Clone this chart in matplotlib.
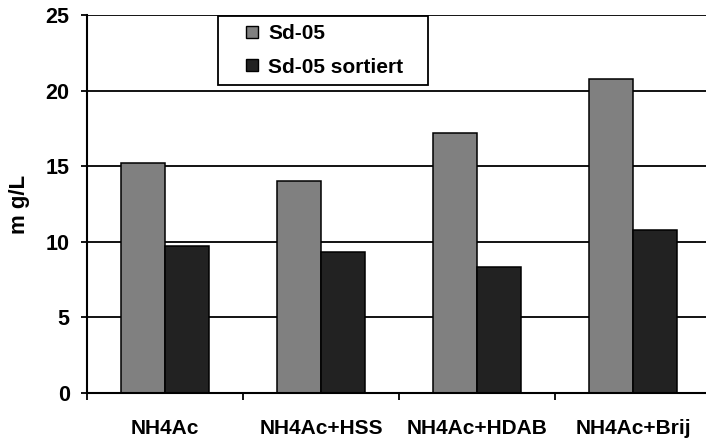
import matplotlib
matplotlib.use("Agg")
import matplotlib.pyplot as plt
from matplotlib.patches import Rectangle
from matplotlib.lines import Line2D
import numpy as np

plt.rcParams['font.family'] = ['Liberation Sans', 'DejaVu Sans']
plt.rcParams['font.weight'] = 'bold'

categories = ["NH4Ac", "NH4Ac+HSS", "NH4Ac+HDAB", "NH4Ac+Brij"]
sd05 = [15.2, 14.0, 17.2, 20.8]
sd05_sortiert = [9.7, 9.3, 8.35, 10.75]
series_names = ["Sd-05", "Sd-05 sortiert"]
yticks = [0, 5, 10, 15, 20, 25]

W, H = 706, 440
fig = plt.figure(figsize=(W / 100, H / 100), dpi=100)
# plot area runs slightly past the right border of the figure
ax = fig.add_axes([87 / W, 47 / H, 624 / W, 378 / H])

x = np.arange(len(categories))
bw = 0.282
ax.bar(x - bw / 2, sd05, bw, color="#808080", edgecolor="black", linewidth=1.1, zorder=3)
ax.bar(x + bw / 2, sd05_sortiert, bw, color="#222222", edgecolor="black", linewidth=1.1, zorder=3)

ax.set_xlim(-0.5, len(categories) - 0.5)
ax.set_ylim(0, 25)
ax.set_yticks(yticks)
ax.set_yticklabels([str(t) for t in yticks], fontsize=15.5, fontweight='bold')
ax.set_xticks(x)
ax.set_xticklabels(categories, fontsize=15, fontweight='bold')
ax.set_xticks(np.arange(len(categories) + 1) - 0.5, minor=True)
ax.tick_params(axis='x', which='major', length=0, pad=19)
ax.tick_params(axis='x', which='minor', length=5, width=1.3, direction='out')
ax.tick_params(axis='y', which='major', length=4.5, width=1.3, direction='out', pad=8)

for t in yticks[1:]:
    ax.axhline(t, color="black", linewidth=1.3, zorder=1)

for s in ("top", "right"):
    ax.spines[s].set_visible(False)
ax.spines["left"].set_linewidth(1.5)
ax.spines["bottom"].set_linewidth(1.5)
ax.spines["bottom"].set_zorder(4)

ax.set_ylabel("m g/L", fontsize=16, fontweight='bold', labelpad=11)

# legend box
fig.patches.append(Rectangle((218 / W, 1 - 85 / H), 210 / W, 69 / H,
                             transform=fig.transFigure, facecolor="white",
                             edgecolor="black", linewidth=1.3, zorder=5))
handles = [Line2D([], [], linestyle="none", marker="s", markersize=9,
                  markerfacecolor=c, markeredgecolor="black", markeredgewidth=1.0)
           for c in ("#808080", "#222222")]
leg = fig.legend(handles, series_names, loc="upper left",
                 bbox_to_anchor=(242 / W, 1 - 24 / H), bbox_transform=fig.transFigure,
                 frameon=False, fontsize=15, handlelength=1.0, handletextpad=0.25,
                 labelspacing=0.7, borderpad=0, borderaxespad=0)
for t in leg.get_texts():
    t.set_fontweight('bold')
leg.set_zorder(6)

fig.savefig("out.png", dpi=100)
